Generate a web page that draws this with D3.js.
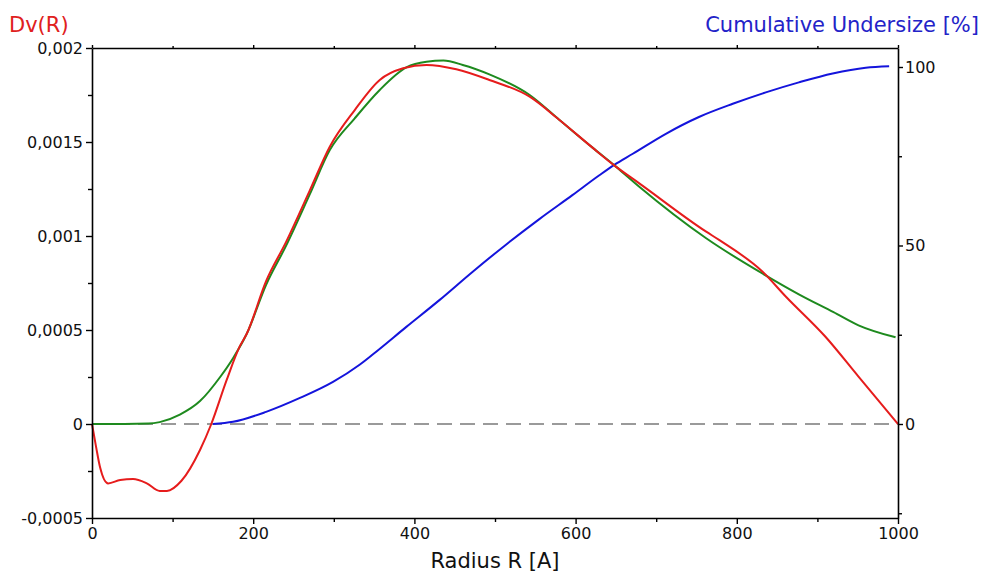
<!DOCTYPE html>
<html>
<head>
<meta charset="utf-8">
<script src="https://cdn.jsdelivr.net/npm/d3@7"></script>
<style>
  html, body { margin: 0; padding: 0; background: #fff; }
  svg { display: block; font-family: "DejaVu Sans", Verdana, sans-serif; }
</style>
</head>
<body>
<svg id="chart" width="983" height="573"></svg>
<script>
// ---- Data ----
const redR = [0, 5, 10, 20, 35, 51, 68, 84, 93, 111, 134, 148, 167, 183, 192, 216, 241, 270, 295, 326, 357, 386, 415, 452, 493, 543, 580, 621, 650, 679, 762, 778, 832, 861, 910, 951, 1000];
const redV = [0, -0.00012, -0.00023, -0.000316, -0.000298, -0.000293, -0.000316, -0.000356, -0.000356, -0.000302, -0.000138, 0, 0.000233, 0.00041, 0.00048, 0.00076, 0.00097, 0.00124, 0.001475, 0.00167, 0.00183, 0.001892, 0.00191, 0.001887, 0.00183, 0.001741, 0.001617, 0.00147, 0.001369, 0.00128, 0.001023, 0.000979, 0.00081, 0.000677, 0.000464, 0.000252, 0];

const greenR = [0, 40, 70, 84, 109, 134, 159, 175, 192, 216, 241, 270, 295, 326, 357, 390, 415, 436, 460, 493, 543, 580, 621, 650, 679, 762, 842, 877, 920, 951, 997];
const greenV = [0, 0, 0.000002, 0.00001, 0.00005, 0.000122, 0.00025, 0.00035, 0.00048, 0.00074, 0.00095, 0.00122, 0.001457, 0.001626, 0.001777, 0.001897, 0.001927, 0.001933, 0.00191, 0.00186, 0.00175, 0.001617, 0.00147, 0.001369, 0.001262, 0.000988, 0.000775, 0.00069, 0.000595, 0.000525, 0.000461];

const blueR = [150, 175, 216, 258, 299, 332, 349, 390, 431, 472, 514, 555, 596, 629, 648, 671, 712, 753, 795, 836, 877, 919, 960, 989];
const blueP = [0, 0.6, 3.4, 7.3, 11.8, 16.6, 19.6, 27.2, 34.7, 42.6, 50.3, 57.4, 64.1, 69.6, 72.6, 75.7, 81.3, 86.0, 89.7, 92.9, 95.7, 98.2, 99.8, 100.2];

const xTicks = [0, 200, 400, 600, 800, 1000];
const xTickLabels = ["0", "200", "400", "600", "800", "1000"];
const xMinor = [100, 300, 500, 700, 900];
const leftTicks = [-0.0005, 0, 0.0005, 0.001, 0.0015, 0.002];
const leftTickLabels = ["-0,0005", "0", "0,0005", "0,001", "0,0015", "0,002"];
const leftMinor = [-0.00025, 0.00025, 0.00075, 0.00125, 0.00175];
const rightTicks = [0, 50, 100];
const rightTickLabels = ["0", "50", "100"];
const rightMinor = [-25, 25, 75];

const titleLeft = "Dv(R)";
const titleRight = "Cumulative Undersize [%]";
const titleX = "Radius R [A]";

// ---- Layout ----
const L = 92, R = 898, T = 48, B = 518;
const svg = d3.select("#chart");

const x = d3.scaleLinear().domain([0, 1000]).range([L, R]);
const yL = d3.scaleLinear().domain([-0.0005, 0.002]).range([B, T]);
// right axis: 0 at same level as left 0, 100 near top
const zeroY = yL(0), hundredY = 67;
const pxPer = (zeroY - hundredY) / 100;
const yR = d3.scaleLinear().domain([-(B - zeroY) / pxPer, (zeroY - T) / pxPer]).range([B, T]);

const red = "#e61c1c", green = "#1e8a1e", blue = "#1414dc";

// zero dashed line
svg.append("line")
  .attr("x1", L).attr("x2", R).attr("y1", yL(0)).attr("y2", yL(0))
  .attr("stroke", "#7a7a7a").attr("stroke-width", 1.3).attr("stroke-dasharray", "15,8");

// lines
const lineL = d3.line().x(d => x(d[0])).y(d => yL(d[1])).curve(d3.curveMonotoneX);
const lineR = d3.line().x(d => x(d[0])).y(d => yR(d[1])).curve(d3.curveMonotoneX);

svg.append("path").datum(blueR.map((r, i) => [r, blueP[i]]))
  .attr("d", lineR).attr("fill", "none").attr("stroke", blue).attr("stroke-width", 2);
svg.append("path").datum(greenR.map((r, i) => [r, greenV[i]]))
  .attr("d", lineL).attr("fill", "none").attr("stroke", green).attr("stroke-width", 2);
svg.append("path").datum(redR.map((r, i) => [r, redV[i]]))
  .attr("d", lineL).attr("fill", "none").attr("stroke", red).attr("stroke-width", 2);

// axes
const fs = 16;
function styleAxis(g) {
  g.selectAll("path.domain").attr("stroke", "#000").attr("stroke-width", 1.6);
  g.selectAll(".tick line").attr("stroke", "#000").attr("stroke-width", 1.4);
  g.selectAll(".tick text").attr("fill", "#111").attr("font-size", fs).attr("font-family", "DejaVu Sans, Verdana, sans-serif");
}

const gx = svg.append("g").attr("transform", `translate(0,${B})`)
  .call(d3.axisBottom(x).tickValues(xTicks).tickFormat((d, i) => xTickLabels[i]).tickSizeInner(6).tickSizeOuter(0).tickPadding(4));
styleAxis(gx);
const gxm = svg.append("g").attr("transform", `translate(0,${B})`)
  .call(d3.axisBottom(x).tickValues(xMinor).tickFormat("").tickSizeInner(4).tickSizeOuter(0));
gxm.select("path.domain").remove(); styleAxis(gxm);

const gl = svg.append("g").attr("transform", `translate(${L},0)`)
  .call(d3.axisLeft(yL).tickValues(leftTicks).tickFormat((d, i) => leftTickLabels[i]).tickSizeInner(6).tickSizeOuter(0).tickPadding(3));
styleAxis(gl);
const glm = svg.append("g").attr("transform", `translate(${L},0)`)
  .call(d3.axisLeft(yL).tickValues(leftMinor).tickFormat("").tickSizeInner(4).tickSizeOuter(0));
glm.select("path.domain").remove(); styleAxis(glm);

const gr = svg.append("g").attr("transform", `translate(${R},0)`)
  .call(d3.axisRight(yR).tickValues(rightTicks).tickFormat((d, i) => rightTickLabels[i]).tickSizeInner(5).tickSizeOuter(0).tickPadding(2));
styleAxis(gr);
const grm = svg.append("g").attr("transform", `translate(${R},0)`)
  .call(d3.axisRight(yR).tickValues(rightMinor).tickFormat("").tickSizeInner(4).tickSizeOuter(0));
grm.select("path.domain").remove(); styleAxis(grm);

const gt = svg.append("g").attr("transform", `translate(0,${T})`)
  .call(d3.axisTop(x).tickValues(xTicks).tickFormat("").tickSizeInner(3).tickSizeOuter(0));
styleAxis(gt);
const gtm = svg.append("g").attr("transform", `translate(0,${T})`)
  .call(d3.axisTop(x).tickValues(xMinor).tickFormat("").tickSizeInner(2).tickSizeOuter(0));
gtm.select("path.domain").remove(); styleAxis(gtm);

// titles
svg.append("text").attr("x", 9).attr("y", 32).attr("fill", "#e02020")
  .attr("font-size", 21).text(titleLeft);
svg.append("text").attr("x", 979).attr("y", 32).attr("text-anchor", "end").attr("fill", "#2323c8")
  .attr("font-size", 21).text(titleRight);
svg.append("text").attr("x", (L + R) / 2).attr("y", 568).attr("text-anchor", "middle").attr("fill", "#111")
  .attr("font-size", 21).text(titleX);
</script>
</body>
</html>
